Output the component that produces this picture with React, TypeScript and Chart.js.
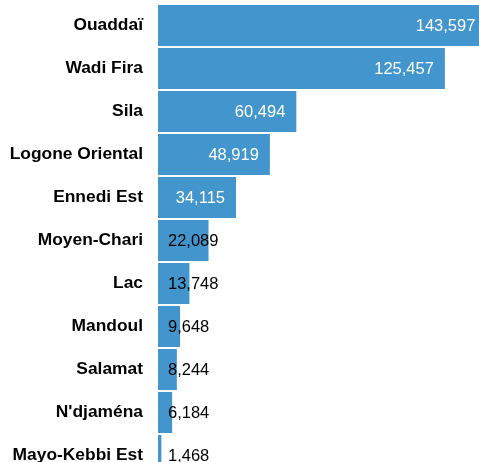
import React, { useEffect, useRef } from "react";
import { Chart, registerables } from "chart.js";

Chart.register(...registerables);

const categories = [
  "Ouaddaï",
  "Wadi Fira",
  "Sila",
  "Logone Oriental",
  "Ennedi Est",
  "Moyen-Chari",
  "Lac",
  "Mandoul",
  "Salamat",
  "N'djaména",
  "Mayo-Kebbi Est",
];
const values = [143597, 125457, 60494, 48919, 34115, 22089, 13748, 9648, 8244, 6184, 1468];

const BAR_COLOR = "#4295CD";
const VALUE_FONT = "16.5px 'Liberation Sans', Arial, sans-serif";

const valueLabels = {
  id: "valueLabels",
  afterDatasetsDraw(chart: any) {
    const ctx = chart.ctx;
    const meta = chart.getDatasetMeta(0);
    const xScale = chart.scales.x;
    const zeroX = xScale.getPixelForValue(0);
    ctx.save();
    ctx.font = VALUE_FONT;
    ctx.textBaseline = "middle";
    meta.data.forEach((bar: any, i: number) => {
      const text = values[i].toLocaleString("en-US");
      const w = ctx.measureText(text).width;
      const barW = bar.x - zeroX;
      if (w + 22 <= barW) {
        ctx.fillStyle = "#ffffff";
        ctx.textAlign = "right";
        ctx.fillText(text, bar.x - 11, bar.y + 0.5);
      } else {
        ctx.fillStyle = "#000000";
        ctx.textAlign = "left";
        ctx.fillText(text, zeroX + 10, bar.y + 0.5);
      }
    });
    ctx.restore();
  },
};

export default function App() {
  const ref = useRef<HTMLCanvasElement>(null);
  useEffect(() => {
    if (!ref.current) return;
    const chart = new Chart(ref.current, {
      type: "bar",
      data: {
        labels: categories,
        datasets: [
          {
            data: values,
            backgroundColor: BAR_COLOR,
            borderWidth: 0,
            barPercentage: 0.953,
            categoryPercentage: 1,
          },
        ],
      },
      options: {
        indexAxis: "y",
        responsive: false,
        animation: false,
        layout: { padding: { top: 4, bottom: 0, left: 0, right: 0 } },
        plugins: {
          legend: { display: false },
          tooltip: { enabled: false },
          title: { display: false },
        },
        scales: {
          x: {
            display: false,
            min: 0,
            max: 150000,
          },
          y: {
            grid: { display: false, drawTicks: false },
            border: { display: false },
            afterFit(scale: any) {
              scale.width = 158;
              scale.paddingTop = 0;
              scale.paddingBottom = 0;
            },
            ticks: {
              padding: 15,
              color: "#000000",
              font: { family: "'Liberation Sans', Arial, sans-serif", size: 17.4, weight: "bold" },
            },
          },
        },
      },
      plugins: [valueLabels],
    });
    return () => chart.destroy();
  }, []);
  return (
    <div
      style={{
        position: "absolute",
        left: 0,
        top: 0,
        width: 479,
        height: 462,
        overflow: "hidden",
        background: "#ffffff",
      }}
    >
      <canvas ref={ref} width={501} height={477} style={{ display: "block", width: 501, height: 477 }} />
    </div>
  );
}
